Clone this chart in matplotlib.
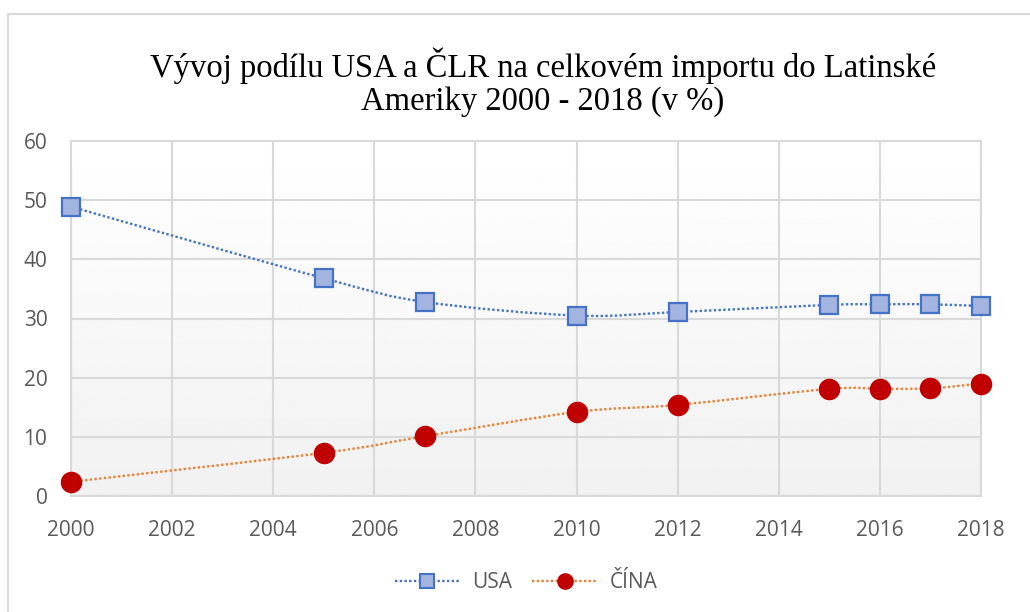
import numpy as np
import matplotlib
matplotlib.use("Agg")
import matplotlib.pyplot as plt
from matplotlib.path import Path
from matplotlib.patches import PathPatch, Rectangle
from matplotlib.lines import Line2D

# data
years = [2000, 2005, 2007, 2010, 2012, 2015, 2016, 2017, 2018]
usa = [48.9, 36.8, 32.8, 30.5, 31.1, 32.3, 32.4, 32.4, 32.1]
cina = [2.4, 7.3, 10.1, 14.2, 15.4, 18.1, 18.1, 18.2, 19.0]
x_ticks = [2000, 2002, 2004, 2006, 2008, 2010, 2012, 2014, 2016, 2018]
y_ticks = [0, 10, 20, 30, 40, 50, 60]
title = "Vývoj podílu USA a ČLR na celkovém importu do Latinské\nAmeriky 2000 - 2018 (v %)"

blue = "#4472c4"
orange = "#ed7d31"
red = "#c00000"
grey_txt = "#595959"
grid_c = "#d9d9d9"


def smooth_path(xs, ys):
    # excel-like smoothed line: bezier segments through the data points
    pts = np.column_stack([xs, ys]).astype(float)
    verts = [pts[0]]
    codes = [Path.MOVETO]
    n = len(pts)
    for i in range(n - 1):
        p0 = pts[i - 1] if i > 0 else pts[i]
        p1 = pts[i]
        p2 = pts[i + 1]
        p3 = pts[i + 2] if i + 2 < n else pts[i + 1]
        c1 = p1 + (p2 - p0) / 6.0
        c2 = p2 - (p3 - p1) / 6.0
        verts += [c1, c2, p2]
        codes += [Path.CURVE4] * 3
    return Path(verts, codes)


fig = plt.figure(figsize=(10.3, 6.12), dpi=100)
fig.patch.set_facecolor("white")

# outer chart frame
fig.add_artist(Rectangle((8 / 1030, -0.1), 1.2, 1 - 14 / 612 + 0.1, transform=fig.transFigure,
                         fill=False, edgecolor=grid_c, linewidth=1.5))

ax = fig.add_axes([71 / 1030, 1 - 496 / 612, (981 - 71) / 1030, (496 - 141) / 612])
ax.set_xlim(2000, 2018)
ax.set_ylim(0, 60)

# gradient background of the plot area
grad = np.linspace(0.945, 1.0, 256).reshape(-1, 1)
ax.imshow(grad, cmap="gray", vmin=0, vmax=1, aspect="auto", extent=[0, 1, 0, 1],
          transform=ax.transAxes, origin="lower", zorder=0)

ax.set_xticks(x_ticks)
ax.set_yticks(y_ticks)
ax.grid(True, color=grid_c, linewidth=1.5, zorder=1)
ax.set_axisbelow(True)
for s in ax.spines.values():
    s.set_color(grid_c)
    s.set_linewidth(1.5)
ax.tick_params(length=0, labelsize=15, labelcolor=grey_txt)
ax.tick_params(axis="x", pad=17)
ax.tick_params(axis="y", pad=17)
for lab in ax.get_xticklabels() + ax.get_yticklabels():
    lab.set_fontfamily("Open Sans")

ax.add_patch(PathPatch(smooth_path(years, usa), fill=False, edgecolor=blue,
                       linewidth=1.7, linestyle=(0, (1, 1)), zorder=3))
ax.add_patch(PathPatch(smooth_path(years, cina), fill=False, edgecolor=orange,
                       linewidth=1.7, linestyle=(0, (1, 1)), zorder=3))
ax.plot(years, usa, linestyle="none", marker="s", markersize=12.5, markerfacecolor="#a4b4e0",
        markeredgecolor=blue, markeredgewidth=1.6, zorder=4, clip_on=False)
ax.plot(years, cina, linestyle="none", marker="o", markersize=14.5, markerfacecolor=red,
        markeredgecolor=red, zorder=4, clip_on=False)

fig.text(543 / 1030, 1 - 82 / 612, title, ha="center", va="center", fontsize=23.5,
         family="Liberation Serif", color="black", linespacing=1.1)

handles = [
    Line2D([], [], color=blue, linewidth=1.7, linestyle=(0, (1, 1)), marker="s", markersize=10,
           markerfacecolor="#a4b4e0", markeredgecolor=blue, markeredgewidth=1.5),
    Line2D([], [], color=orange, linewidth=1.7, linestyle=(0, (1, 1)), marker="o", markersize=11,
           markerfacecolor=red, markeredgecolor=red),
]
leg = fig.legend(handles, ["USA", "ČÍNA"], loc="center", bbox_to_anchor=(526 / 1030, 1 - 583 / 612),
                 ncol=2, frameon=False, handlelength=3.1, columnspacing=1.0, handletextpad=0.6,
                 prop={"family": "Open Sans", "size": 15})
for t in leg.get_texts():
    t.set_color(grey_txt)

fig.savefig("out.png", dpi=100, facecolor="white")
